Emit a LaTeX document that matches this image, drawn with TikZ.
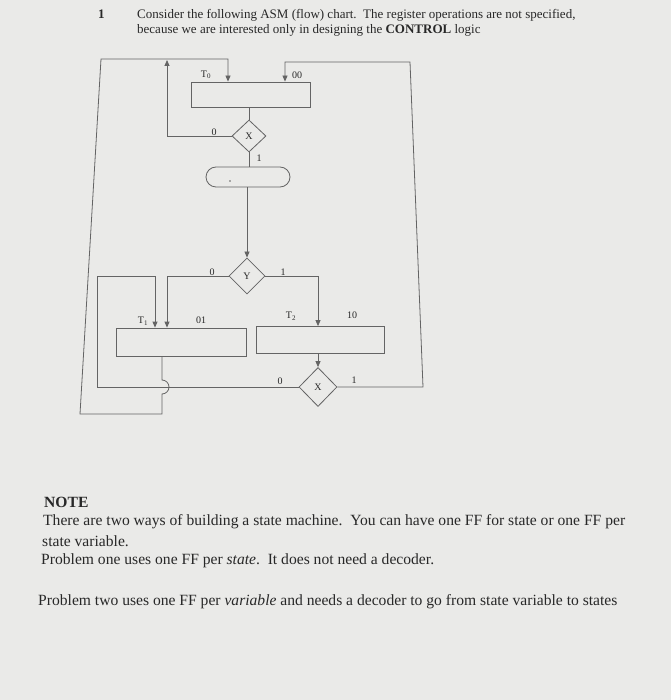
\documentclass[tikz,border=0pt]{standalone}
\usepackage{fontspec}
\setmainfont{Liberation Serif}
\usetikzlibrary{arrows.meta,shapes.geometric,shapes.misc}
\definecolor{paper}{RGB}{234,234,232}
\definecolor{ink}{RGB}{40,40,40}
\definecolor{wire}{RGB}{100,100,100}
\begin{document}
\begin{tikzpicture}[x=1pt,y=-1pt,
  wireline/.style={draw=wire,line width=0.8pt},
  flow/.style={wireline,-{Triangle[length=6pt,width=5pt]}},
  statebox/.style={wireline,rectangle,inner sep=0pt},
  decbox/.style={wireline,diamond,inner sep=0pt,text=ink,font=\fontsize{10}{12}\selectfont},
  condbox/.style={wireline,rounded rectangle,inner sep=0pt,minimum width=84pt,minimum height=20pt},
  lbl/.style={font=\fontsize{10}{12}\selectfont,text=ink,inner sep=0pt},
  body/.style={text=ink,inner sep=0pt,anchor=base west},
  headfont/.style={font=\fontsize{13}{15}\selectfont},
  notefont/.style={font=\fontsize{15.6}{18}\selectfont}]
\useasboundingbox (0,0) rectangle (671,700);
\fill[paper] (0,0) rectangle (671,700);

% header
\node[body,font=\bfseries\fontsize{13}{15}\selectfont] (num) at (98,18.5) {1};
\node[body,headfont] (h1) at (137,18.5) {Consider the following ASM (flow) chart.\ \ The register operations are not specified,};
\node[body,headfont] (h2) at (137,33.5) {because we are interested only in designing the \textbf{CONTROL} logic};

% blocks
\node[statebox,minimum width=119pt,minimum height=25pt] (s0) at (250.5,94.5) {};
\node[decbox,minimum width=34pt,minimum height=32pt] (x1) at (249,136) {X};
\node[condbox] (c1) at (248,177) {};
\fill[wire] (230,181) circle (0.8);
\node[decbox,minimum width=36pt,minimum height=36pt] (y) at (247,276) {Y};
\node[statebox,minimum width=130pt,minimum height=28pt] (s1) at (181,342) {};
\node[statebox,minimum width=128pt,minimum height=27pt] (s2) at (320,340) {};
\node[decbox,minimum width=38pt,minimum height=39pt] (x2) at (318,387) {X};

% corner coordinates
\coordinate (t1out) at ([xshift=-19pt]s1.south);
\coordinate (hopA) at (t1out |- x2.west);
\coordinate (lb) at (t1out |- 0,414);
\coordinate (olb) at (80,414);
\coordinate (olt) at (101,59);
\coordinate (ia) at (97,387);
\coordinate (ib) at (97,276);
\coordinate (rb) at (423,387);
\coordinate (rt) at (410,62);
\coordinate (up0) at (167,60);

% connectors
\draw[wireline] (x1.north |- s0.south) -- (x1.north);
\draw[wireline] (x1.south) -- (x1.south |- c1.north);
\draw[flow] (y.north |- c1.south) -- (y.north);
\draw[flow] (x1.west) -| (up0);
\draw[flow] (y.west) -| ([xshift=-14pt]s1.north);
\draw[flow] (y.east) -| ([xshift=-2pt]s2.north);
\draw[flow] (x2.north |- s2.south) -- (x2.north);
\draw[flow] (x2.west) -- (ia) -- (ib) -| ([xshift=-26pt]s1.north);
\draw[flow] (x2.east) -- (rb) -- (rt) -| ([xshift=34.5pt]s0.north);
\draw[flow] (t1out) -- ([yshift=7pt]hopA) arc[start angle=-90,end angle=90,radius=7] -- (lb) -- (olb) -- (olt) -| ([xshift=-22.5pt]s0.north);

% labels
\node[lbl] (lt0) at (206,75) {T\textsubscript{0}};
\node[lbl] (l00) at (297,75) {00};
\node[lbl] (lx10) at (214,132) {0};
\node[lbl] (lx11) at (259,158) {1};
\node[lbl] (ly0) at (212,272) {0};
\node[lbl] (ly1) at (283,272) {1};
\node[lbl] (lt1) at (143,321) {T\textsubscript{1}};
\node[lbl] (l01) at (201,320) {01};
\node[lbl] (lt2) at (291,316) {T\textsubscript{2}};
\node[lbl] (l10) at (352,315) {10};
\node[lbl] (lx20) at (280,381) {0};
\node[lbl] (lx21) at (354,380) {1};

% note
\node[body,font=\bfseries\fontsize{15.6}{18}\selectfont] (note) at (44,507.5) {NOTE};
\node[body,notefont] (n1) at (43,525.5) {There are two ways of building a state machine.\ \ You can have one FF for state or one FF per};
\node[body,notefont] (n2) at (42,546.5) {state variable.};
\node[body,notefont] (n3) at (41,564.5) {Problem one uses one FF per \textit{state}.\ \ It does not need a decoder.};
\node[body,notefont] (n4) at (38,605.5) {Problem two uses one FF per \textit{variable} and needs a decoder to go from state variable to states};
\end{tikzpicture}
\end{document}
